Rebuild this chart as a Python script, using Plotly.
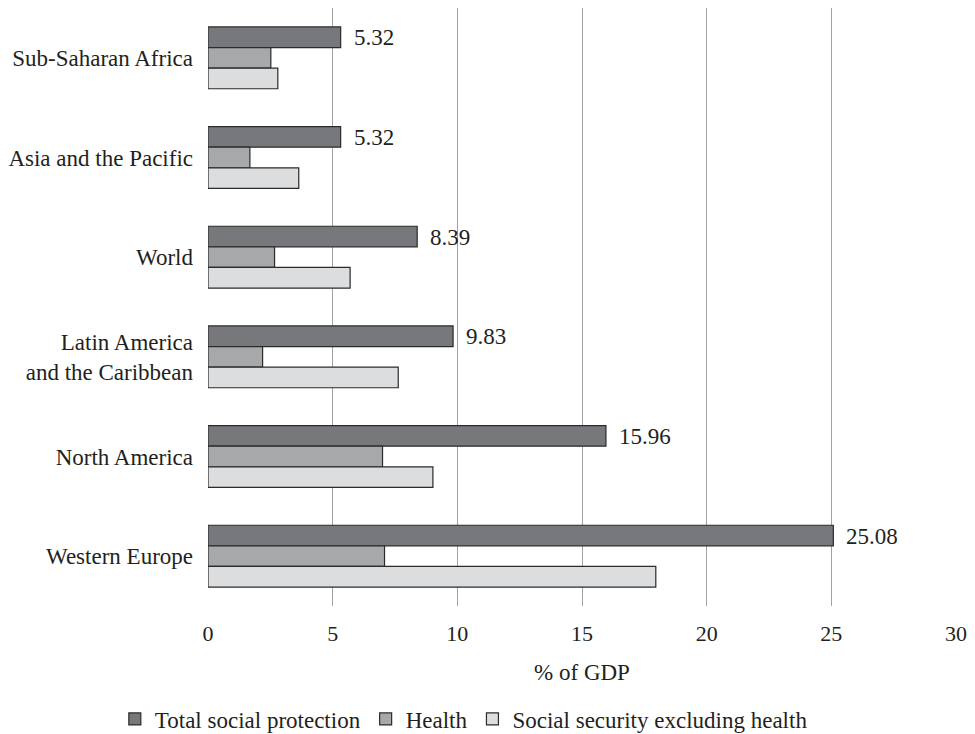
import plotly.graph_objects as go

# Regions, listed top to bottom
regions = [
    "Sub-Saharan Africa",
    "Asia and the Pacific",
    "World",
    "Latin America<br>and the Caribbean",
    "North America",
    "Western Europe",
]

# Public social protection expenditure, % of GDP
total_social_protection = [5.32, 5.32, 8.39, 9.83, 15.96, 25.08]
health = [2.52, 1.68, 2.67, 2.19, 7.00, 7.08]
social_security_excl_health = [2.80, 3.64, 5.70, 7.63, 9.02, 17.96]

series_names = ["Total social protection", "Health", "Social security excluding health"]
x_ticks = [0, 5, 10, 15, 20, 25, 30]

FONT = "Liberation Serif"
TEXT = "#231f20"
fills = ["#77787b", "#a7a8aa", "#dcddde"]

fig = go.Figure()
for name, vals, col in zip(series_names,
                           [total_social_protection, health, social_security_excl_health],
                           fills):
    fig.add_trace(go.Bar(
        y=regions, x=vals, name=name, orientation="h",
        marker=dict(color=col, line=dict(color="#2b2b2b", width=1.2)),
        hoverinfo="x+name",
    ))

# Value labels next to the total bars (top bar of each group)
for reg, v in zip(regions, total_social_protection):
    fig.add_annotation(
        x=v, y=reg, text=f"{v:.2f}", showarrow=False,
        xanchor="left", yanchor="middle", xshift=11, yshift=20,
        font=dict(family=FONT, size=23, color=TEXT),
    )

fig.update_layout(
    width=975, height=734,
    margin=dict(l=207, r=18, t=8, b=128),
    paper_bgcolor="white", plot_bgcolor="white",
    barmode="group", bargap=0.38, bargroupgap=0,
    font=dict(family=FONT, size=23, color=TEXT),
    showlegend=True,
    legend=dict(
        orientation="h", x=0.342, xanchor="center",
        y=1 - 719 / 734, yanchor="middle", yref="container",
        font=dict(family=FONT, size=23, color=TEXT),
        itemwidth=30, tracegroupgap=0,
    ),
    xaxis=dict(
        range=[0, 30], tickvals=x_ticks, ticktext=[str(t) for t in x_ticks],
        showgrid=True, gridcolor="#a3a3a3", gridwidth=1,
        zeroline=False, showline=False, ticks="",
        ticklabelstandoff=12,
        title=dict(text="% of GDP", standoff=18,
                   font=dict(family=FONT, size=23, color=TEXT)),
        tickfont=dict(family=FONT, size=22, color=TEXT),
    ),
    yaxis=dict(
        autorange="reversed", showgrid=False, zeroline=False,
        showline=False, ticks="", ticklabelstandoff=14,
        tickfont=dict(family=FONT, size=23, color=TEXT),
    ),
)

fig.write_html("out.html")
